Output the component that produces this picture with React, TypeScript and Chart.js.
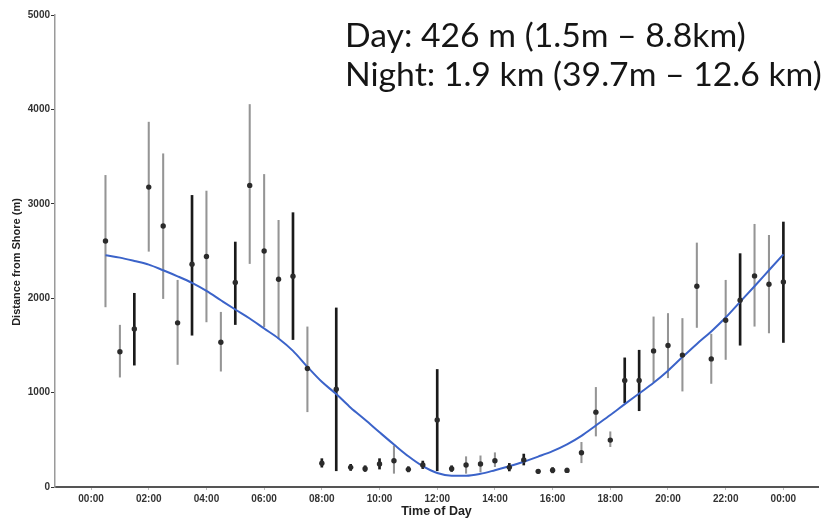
import React, { useEffect, useRef } from "react";
import { Chart, registerables } from "chart.js";

Chart.register(...registerables);

const times = [
  0.5, 1, 1.5, 2, 2.5, 3, 3.5, 4, 4.5, 5, 5.5, 6, 6.5, 7, 7.5, 8,
  8.5, 9, 9.5, 10, 10.5, 11, 11.5, 12, 12.5, 13, 13.5, 14, 14.5, 15, 15.5, 16,
  16.5, 17, 17.5, 18, 18.5, 19, 19.5, 20, 20.5, 21, 21.5, 22, 22.5, 23, 23.5, 24,
];

const means = [
  2606, 1432, 1675, 3177, 2765, 1739, 2359, 2441, 1534, 2166, 3195, 2500, 2200, 2232, 1256, 251,
  1035, 208, 194, 243, 278, 187, 233, 709, 194, 233, 243, 278, 208, 286, 166, 178,
  176, 363, 793, 497, 1129, 1129, 1442, 1499, 1397, 2127, 1357, 1767, 1978, 2236, 2148, 2172,
];

const lower = [
  1908, 1164, 1291, 2497, 1996, 1298, 1608, 1749, 1227, 1721, 2367, 1696, 1573, 1562, 797, 210,
  172, 175, 165, 190, 145, 160, 195, 172, 165, 145, 160, 215, 170, 233, 145, 150,
  155, 257, 540, 427, 892, 808, 1114, 1157, 1016, 1690, 1097, 1351, 1502, 1703, 1632, 1531,
];

const upper = [
  3301, 1714, 2052, 3865, 3530, 2190, 3089, 3135, 1851, 2595, 4052, 3311, 2825, 2906, 1696, 300,
  1897, 240, 225, 300, 437, 215, 275, 1245, 225, 321, 330, 363, 250, 349, 185, 205,
  200, 473, 1055, 585, 1368, 1449, 1802, 1838, 1785, 2585, 1619, 2190, 2472, 2783, 2666, 2807,
];

// 1 = darker, thicker error bar
const darkBar = [
  0, 0, 1, 0, 0, 0, 1, 0, 0, 1, 0, 0, 0, 1, 0, 1,
  1, 1, 1, 1, 0, 1, 1, 1, 1, 0, 0, 0, 1, 1, 1, 1,
  1, 0, 0, 0, 1, 1, 0, 0, 0, 0, 0, 0, 1, 0, 0, 1,
];

const smooth = [
  2455, 2430, 2395, 2356, 2296, 2232, 2162, 2077, 1978, 1880, 1785, 1679, 1573, 1442, 1273, 1114,
  985, 840, 712, 580, 450, 325, 220, 148, 120, 120, 140, 178, 220, 268, 322, 380,
  452, 542, 652, 762, 878, 991, 1104, 1232, 1376, 1516, 1648, 1795, 1961, 2127, 2296, 2465,
];

const xTickValues = [0, 2, 4, 6, 8, 10, 12, 14, 16, 18, 20, 22, 24];
const xTickLabels = [
  "00:00", "02:00", "04:00", "06:00", "08:00", "10:00", "12:00",
  "14:00", "16:00", "18:00", "20:00", "22:00", "00:00",
];

const annotationLines = [
  "Day: 426 m (1.5m \u2013 8.8km)",
  "Night: 1.9 km (39.7m \u2013 12.6 km)",
];
const yTitle = "Distance from Shore (m)";
const xTitle = "Time of Day";

const AXIS_FONT = "'Liberation Sans', Arial, sans-serif";

const overlayPlugin = {
  id: "overlayText",
  afterDraw(chart: any) {
    const ctx = chart.ctx;
    ctx.save();
    const family = "Lato, 'Noto Sans', sans-serif";
    ctx.font = `30px ${family}`;
    const w = ctx.measureText(annotationLines[1]).width;
    const size = (30 * 477) / w;
    ctx.font = `${size}px ${family}`;
    ctx.fillStyle = "#151515";
    ctx.textAlign = "left";
    ctx.textBaseline = "alphabetic";
    ctx.fillText(annotationLines[0], 345, 47);
    ctx.fillText(annotationLines[1], 345, 86);

    ctx.translate(17, 262);
    ctx.rotate(-Math.PI / 2);
    ctx.font = `bold 11px ${AXIS_FONT}`;
    ctx.fillStyle = "#222";
    ctx.textAlign = "center";
    ctx.textBaseline = "middle";
    ctx.fillText(yTitle, 0, 0);
    ctx.restore();
  },
};

export default function App() {
  const canvasRef = useRef<HTMLCanvasElement | null>(null);

  useEffect(() => {
    document.body.style.margin = "0";
    const canvas = canvasRef.current;
    if (!canvas) return;

    const grayBars: any[] = [];
    const darkBars: any[] = [];
    times.forEach((t, i) => {
      const d = { x: t, y: [lower[i], upper[i]] };
      if (darkBar[i]) darkBars.push(d);
      else grayBars.push(d);
    });

    const chart = new Chart(canvas, {
      type: "scatter",
      data: {
        datasets: [
          {
            type: "scatter",
            data: times.map((t, i) => ({ x: t, y: means[i] })),
            pointRadius: 2.7,
            pointHoverRadius: 2.7,
            backgroundColor: "#2b2b2b",
            borderWidth: 0,
            order: 0,
          } as any,
          {
            type: "line",
            data: times.map((t, i) => ({ x: t, y: smooth[i] })),
            borderColor: "#3b63c9",
            borderWidth: 2,
            pointRadius: 0,
            cubicInterpolationMode: "monotone",
            fill: false,
            order: 1,
          } as any,
          {
            type: "bar",
            data: darkBars,
            backgroundColor: "#1a1a1a",
            barThickness: 2,
            grouped: false,
            order: 2,
          } as any,
          {
            type: "bar",
            data: grayBars,
            backgroundColor: "#959595",
            barThickness: 1.4,
            grouped: false,
            order: 3,
          } as any,
        ],
      },
      options: {
        responsive: false,
        animation: false,
        events: [],
        layout: { padding: { left: 0, right: 10, top: 15, bottom: 0 } },
        plugins: {
          legend: { display: false },
          tooltip: { enabled: false },
          title: { display: false },
        },
        scales: {
          x: {
            type: "linear",
            min: -1.25,
            max: 25.2,
            offset: false,
            grid: {
              display: true,
              drawOnChartArea: false,
              drawTicks: true,
              tickLength: 3,
              color: "#bbbbbb",
              offset: false,
            },
            border: { display: true, color: "#555555", width: 2 },
            afterBuildTicks: (scale: any) => {
              scale.ticks = xTickValues.map((v) => ({ value: v }));
            },
            afterFit: (scale: any) => {
              scale.height = 34;
            },
            ticks: {
              autoSkip: false,
              maxRotation: 0,
              padding: 3,
              color: "#333",
              font: { family: AXIS_FONT, size: 10, weight: "bold" },
              callback: (value: any) => {
                const idx = xTickValues.indexOf(Number(value));
                return idx >= 0 ? xTickLabels[idx] : "";
              },
            },
            title: {
              display: true,
              text: xTitle,
              color: "#222",
              font: { family: AXIS_FONT, size: 12.5, weight: "bold" },
              padding: { top: 0, bottom: 2 },
            },
          },
          y: {
            type: "linear",
            min: 0,
            max: 5000,
            grid: {
              display: true,
              drawOnChartArea: false,
              drawTicks: true,
              tickLength: 4,
              color: "#333333",
            },
            border: { display: true, color: "#9a9a9a", width: 1.5 },
            afterFit: (scale: any) => {
              scale.width = 55;
            },
            ticks: {
              stepSize: 1000,
              padding: 1,
              color: "#333",
              font: { family: AXIS_FONT, size: 10, weight: "bold" },
              callback: (value: any) => String(value),
            },
          },
        },
      } as any,
      plugins: [overlayPlugin],
    });

    return () => chart.destroy();
  }, []);

  return (
    <div style={{ position: "fixed", left: 0, top: 0, width: 828, height: 521, background: "#fff" }}>
      <canvas ref={canvasRef} width={828} height={521} />
    </div>
  );
}
